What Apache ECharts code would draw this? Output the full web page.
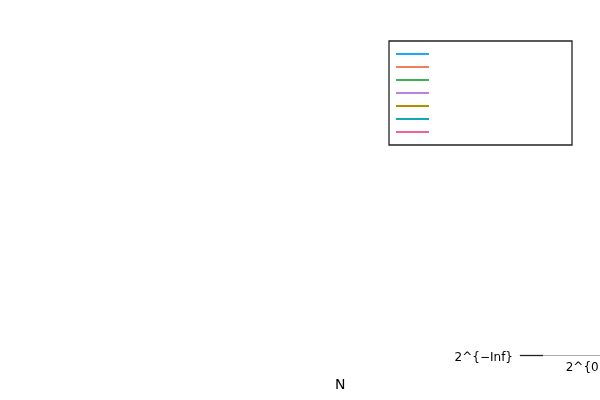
<!DOCTYPE html>
<html><head><meta charset="utf-8">
<script src="https://cdn.jsdelivr.net/npm/echarts@6/dist/echarts.min.js"></script>
<style>html,body{margin:0;padding:0;background:#fff}#c{width:600px;height:400px}</style>
</head><body><div id="c"></div>
<script>
const seriesNames = ['s1','s2','s3','s4','s5','s6','s7'];
const seriesColors = ['#1ea7fd','#f07f5a','#3cb44b','#c17ee0','#b38f00','#14a8b4','#f5628f'];
const seriesValues = [[],[],[],[],[],[],[]];
const xTickValues = [1];
const xTickLabels = ['2^{0}'];
const yTickValues = [0];
const yTickLabels = ['2^{\u2212Inf}'];
const xAxisName = 'N';

const chart = echarts.init(document.getElementById('c'), null, {renderer:'canvas'});
chart.setOption({
  animation:false,
  backgroundColor:'#fff',
  textStyle:{fontFamily:'DejaVu Sans'},
  title:{text:xAxisName, left:335, top:378, padding:0,
    textStyle:{fontSize:14, fontWeight:'normal', color:'#000', fontFamily:'DejaVu Sans'}},
  legend:{
    orient:'vertical', left:389, top:41,
    padding:[9,6,9,6], itemGap:5, itemWidth:33, itemHeight:8,
    borderColor:'#222', borderWidth:1.3, backgroundColor:'#fff',
    data:seriesNames,
    itemStyle:{opacity:0},
    formatter:()=>'{w|}',
    textStyle:{color:'rgba(0,0,0,0)', fontSize:8, lineHeight:8,
      rich:{w:{width:132, height:8, lineHeight:8}}},
    selectedMode:false
  },
  grid:{left:520, top:30, bottom:45, right:-52, containLabel:false, outerBoundsMode:'none'},
  xAxis:{type:'value', min:0, max:2, interval:1,
    axisLine:{show:true, lineStyle:{color:'#aaa', width:1}},
    axisTick:{show:false}, splitLine:{show:false},
    axisLabel:{margin:7, fontSize:12, color:'#000', fontFamily:'DejaVu Sans',
      customValues:xTickValues,
      formatter:(v)=>{const i=xTickValues.indexOf(v);return i>=0?xTickLabels[i]:'';}}},
  yAxis:{type:'value', min:0, max:1, interval:1,
    axisLine:{show:false},
    axisTick:{show:true, inside:true, length:23, customValues:yTickValues,
      lineStyle:{color:'#222', width:1.3}},
    splitLine:{show:false},
    axisLabel:{margin:7, fontSize:12, color:'#000', fontFamily:'DejaVu Sans',
      verticalAlign:'top', lineHeight:5,
      customValues:yTickValues,
      formatter:(v)=>{const i=yTickValues.indexOf(v);return i>=0?yTickLabels[i]:'';}}},
  series: seriesNames.map((n,i)=>({
    name:n, type:'line', symbol:'none', data:seriesValues[i],
    color:seriesColors[i], lineStyle:{width:1.3, color:seriesColors[i]}
  }))
});
</script></body></html>
